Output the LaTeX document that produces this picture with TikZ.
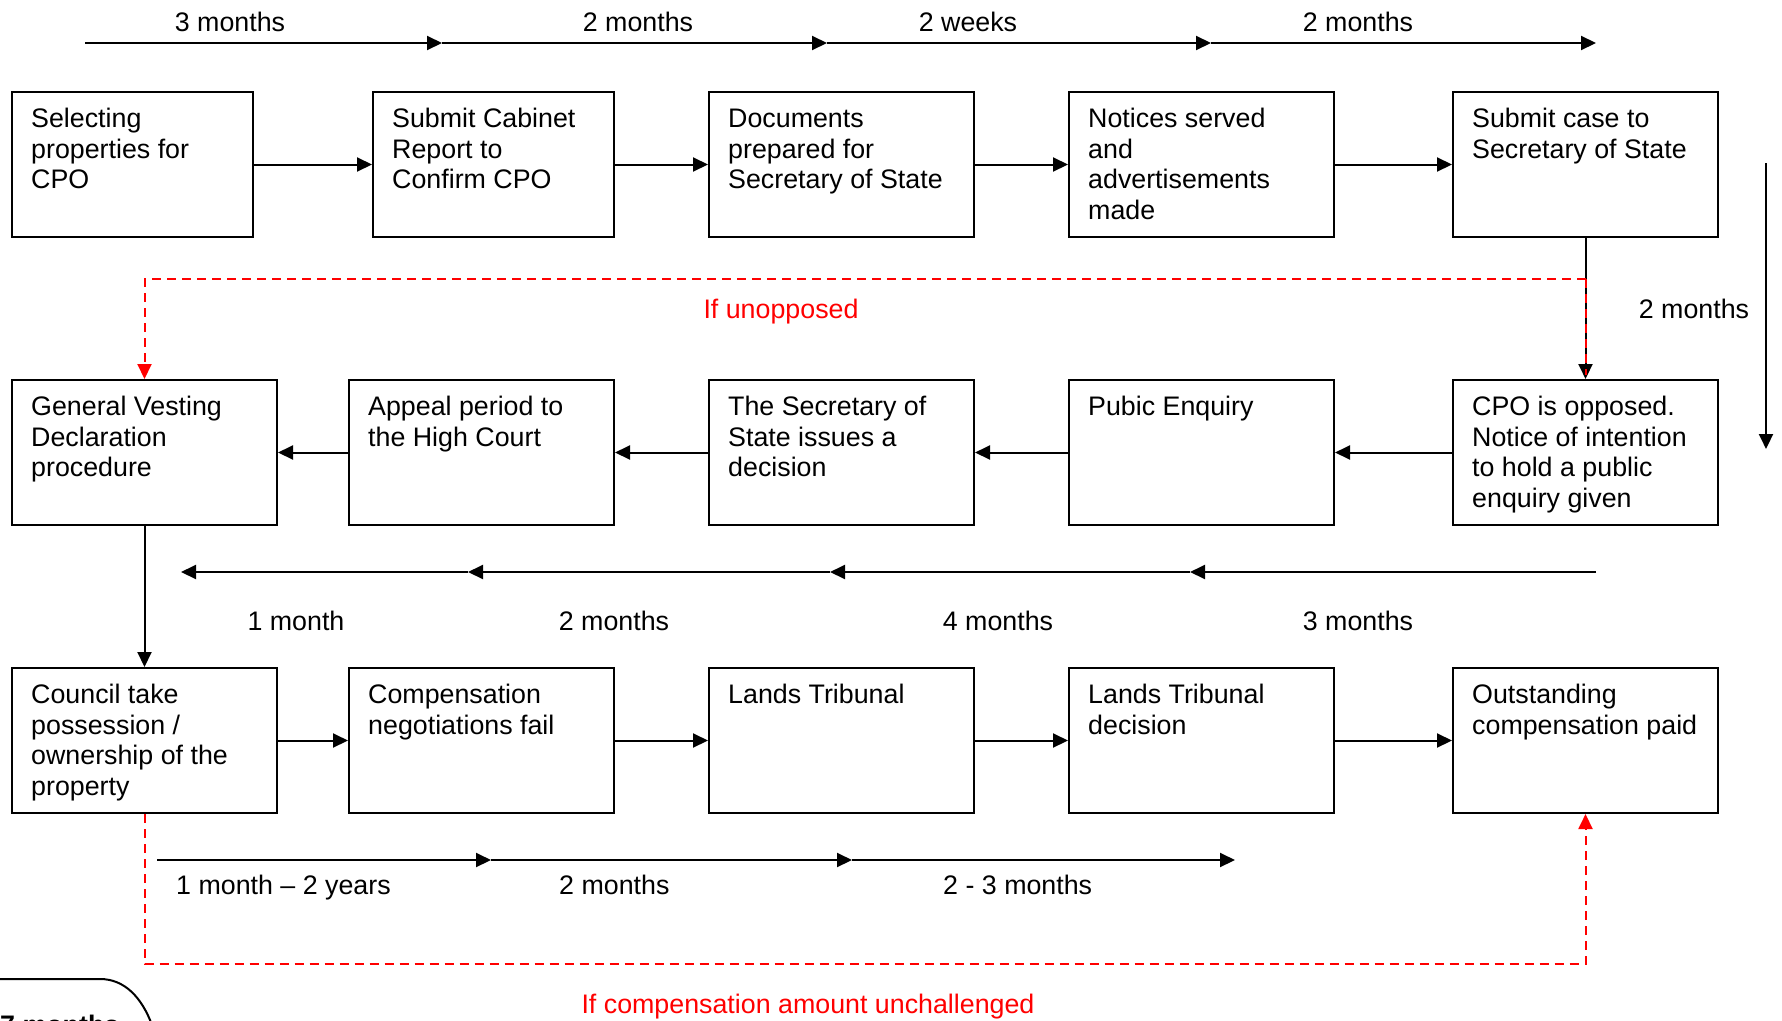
\documentclass[tikz,border=0pt]{standalone}
\usepackage{fontspec}
\setmainfont{Liberation Sans}
\usetikzlibrary{arrows.meta,calc}
\definecolor{cred}{RGB}{255,0,0}
\newcommand{\myfont}{\fontsize{26.8}{30.6}\selectfont}
\tikzset{
  box/.style={draw, line width=2pt, rectangle, inner sep=0pt, anchor=north west},
  txt/.style={anchor=north west, inner sep=0pt, align=left, font=\myfont},
  lbl/.style={anchor=base, inner sep=0pt, font=\myfont},
  arr/.style={line width=2pt, -{Triangle[length=15pt,width=14pt]}},
  redarr/.style={line width=2pt, cred, dash pattern=on 9pt off 6pt, -{Triangle[length=15pt,width=14pt]}},
  redline/.style={line width=2pt, cred, dash pattern=on 9pt off 6pt},
}
\newcommand{\boxtext}[2]{\node[txt] at ($(#1.north west)+(20,15)$) {\strut #2};}
\begin{document}
\begin{tikzpicture}[x=1pt,y=-1pt]
\useasboundingbox (0,0) rectangle (1782,1020);
% row 1
\node[box, minimum width=241pt, minimum height=145pt] (a1) at (11,91) {};
\node[box, minimum width=241pt, minimum height=145pt] (a2) at (372,91) {};
\node[box, minimum width=265pt, minimum height=145pt] (a3) at (708,91) {};
\node[box, minimum width=265pt, minimum height=145pt] (a4) at (1068,91) {};
\node[box, minimum width=265pt, minimum height=145pt] (a5) at (1452,91) {};
% row 2
\node[box, minimum width=265pt, minimum height=145pt] (b1) at (11,379) {};
\node[box, minimum width=265pt, minimum height=145pt] (b2) at (348,379) {};
\node[box, minimum width=265pt, minimum height=145pt] (b3) at (708,379) {};
\node[box, minimum width=265pt, minimum height=145pt] (b4) at (1068,379) {};
\node[box, minimum width=265pt, minimum height=145pt] (b5) at (1452,379) {};
% row 3
\node[box, minimum width=265pt, minimum height=145pt] (c1) at (11,667) {};
\node[box, minimum width=265pt, minimum height=145pt] (c2) at (348,667) {};
\node[box, minimum width=265pt, minimum height=145pt] (c3) at (708,667) {};
\node[box, minimum width=265pt, minimum height=145pt] (c4) at (1068,667) {};
\node[box, minimum width=265pt, minimum height=145pt] (c5) at (1452,667) {};
% texts
\boxtext{a1}{Selecting\\properties for\\CPO}
\boxtext{a2}{Submit Cabinet\\Report to\\Confirm CPO}
\boxtext{a3}{Documents\\prepared for\\Secretary of State}
\boxtext{a4}{Notices served\\and\\advertisements\\made}
\boxtext{a5}{Submit case to\\Secretary of State}
\boxtext{b1}{General Vesting\\Declaration\\procedure}
\boxtext{b2}{Appeal period to\\the High Court}
\boxtext{b3}{The Secretary of\\State issues a\\decision}
\boxtext{b4}{Pubic Enquiry}
\boxtext{b5}{CPO is opposed.\\Notice of intention\\to hold a public\\enquiry given}
\boxtext{c1}{Council take\\possession /\\ownership of the\\property}
\boxtext{c2}{Compensation\\negotiations fail}
\boxtext{c3}{Lands Tribunal}
\boxtext{c4}{Lands Tribunal\\decision}
\boxtext{c5}{Outstanding\\compensation paid}
% box connectors
\draw[arr] (a1) -- (a2);
\draw[arr] (a2) -- (a3);
\draw[arr] (a3) -- (a4);
\draw[arr] (a4) -- (a5);
\draw[arr] (a5) -- (b5);
\draw[arr] (b5) -- (b4);
\draw[arr] (b4) -- (b3);
\draw[arr] (b3) -- (b2);
\draw[arr] (b2) -- (b1);
\draw[arr] (b1) -- (c1);
\draw[arr] (c1) -- (c2);
\draw[arr] (c2) -- (c3);
\draw[arr] (c3) -- (c4);
\draw[arr] (c4) -- (c5);
% red dashed routes
\coordinate (r1) at ($(a5.south)+(0,41)$);
\draw[redarr] (r1) -| (b1.north);
\draw[redline] (r1) -- ($(b5.north)+(0,-4)$);
\coordinate (r2) at ($(c1.south)+(0,150)$);
\draw[redarr] (c1.south) -- (r2) -| (c5.south);
\node[lbl, cred] (lu) at (781,318) {If unopposed};
\node[lbl, cred] (lc) at (808,1013) {If compensation amount unchallenged};
% top timeline
\coordinate (t0) at (85,43);
\coordinate (t1) at (442,43);
\coordinate (t2) at (827,43);
\coordinate (t3) at (1211,43);
\coordinate (t4) at (1596,43);
\draw[arr] (t0) -- (t1);
\draw[arr] (t1) -- (t2);
\draw[arr] (t2) -- (t3);
\draw[arr] (t3) -- (t4);
\node[lbl] (tl1) at (230,31) {3 months};
\node[lbl] (tl2) at (638,31) {2 months};
\node[lbl] (tl3) at (968,31) {2 weeks};
\node[lbl] (tl4) at (1358,31) {2 months};
% right vertical timeline
\coordinate (v0) at (1766,163);
\coordinate (v1) at (1766,449);
\draw[arr] (v0) -- (v1);
\node[lbl] (vl) at (1694,318) {2 months};
% middle timeline
\coordinate (m0) at (1596,572);
\coordinate (m1) at (1190,572);
\coordinate (m2) at (830,572);
\coordinate (m3) at (468,572);
\coordinate (m4) at (181,572);
\draw[arr] (m0) -- (m1);
\draw[arr] (m1) -- (m2);
\draw[arr] (m2) -- (m3);
\draw[arr] (m3) -- (m4);
\node[lbl] (ml1) at (296,630) {1 month};
\node[lbl] (ml2) at (614,630) {2 months};
\node[lbl] (ml3) at (998,630) {4 months};
\node[lbl] (ml4) at (1358,630) {3 months};
% bottom timeline
\coordinate (s0) at (157,860);
\coordinate (s1) at (491,860);
\coordinate (s2) at (852,860);
\coordinate (s3) at (1235,860);
\draw[arr] (s0) -- (s1);
\draw[arr] (s1) -- (s2);
\draw[arr] (s2) -- (s3);
\node[lbl, anchor=base west] (sl1) at (176,894) {1 month – 2 years};
\node[lbl, anchor=base west] (sl2) at (559,894) {2 months};
\node[lbl, anchor=base west] (sl3) at (943,894) {2 - 3 months};
% partial shape at bottom-left (cut off by the page edge, as in the reference)
\begin{scope}
\clip (0,0) rectangle (1782,1020);
\draw[line width=2pt] (-5,979) -- (100,979) .. controls (125,979) and (142,998) .. (152,1025);
\node[lbl, anchor=base west, font=\myfont\bfseries] (sm) at (0,1034) {7 months};
\end{scope}
\end{tikzpicture}
\end{document}
